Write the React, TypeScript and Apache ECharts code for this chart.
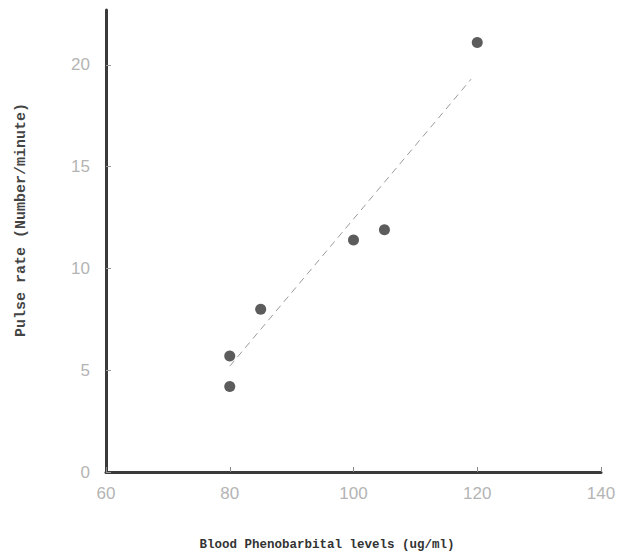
import React, { useEffect, useRef } from "react";
import * as echarts from "echarts";

const pointX = [80, 80, 85, 100, 105, 120];
const pointY = [5.7, 4.2, 8.0, 11.4, 11.9, 21.1];
const fitX = [80, 119];
const fitY = [5.2, 19.3];
const xTicks = [60, 80, 100, 120, 140];
const yTicks = [0, 5, 10, 15, 20];
const xTitle = "Blood Phenobarbital levels (ug/ml)";
const yTitle = "Pulse rate (Number/minute)";

export default function App() {
  const ref = useRef<HTMLDivElement>(null);
  useEffect(() => {
    if (!ref.current) return;
    const chart = echarts.init(ref.current, undefined, { renderer: "svg" });
    const labelStyle = {
      color: "#b4b4b4",
      fontFamily: "Liberation Sans",
      fontSize: 17,
    };
    chart.setOption({
      animation: false,
      backgroundColor: "#ffffff",
      grid: { left: 106, right: 41, top: 10, bottom: 84 },
      xAxis: {
        type: "value",
        min: 60,
        max: 140,
        interval: 20,
        axisLine: { show: true, lineStyle: { color: "#3a3a3a", width: 3 } },
        axisTick: { show: true, inside: true, length: 5, lineStyle: { color: "#888", width: 1 }, customValues: xTicks },
        axisLabel: { ...labelStyle, margin: 13, customValues: xTicks },
        splitLine: { show: false },
      },
      yAxis: {
        type: "value",
        min: 0,
        max: 22.7,
        interval: 5,
        axisLine: { show: true, lineStyle: { color: "#3a3a3a", width: 3 } },
        axisTick: { show: true, inside: true, length: 5, lineStyle: { color: "#999", width: 1 }, customValues: yTicks },
        axisLabel: { ...labelStyle, margin: 16, customValues: yTicks },
        splitLine: { show: false },
      },
      graphic: [
        {
          type: "text",
          x: 327,
          y: 545,
          style: {
            text: xTitle,
            fill: "#333",
            font: "bold 12.5px 'Liberation Mono'",
            textAlign: "center",
            textVerticalAlign: "middle",
          },
        },
        {
          type: "text",
          x: 21,
          y: 220,
          rotation: Math.PI / 2,
          style: {
            text: yTitle,
            fill: "#444",
            font: "bold 15px 'Liberation Mono'",
            textAlign: "center",
            textVerticalAlign: "middle",
          },
        },
      ],
      series: [
        {
          type: "line",
          data: fitX.map((x, i) => [x, fitY[i]]),
          symbol: "none",
          lineStyle: { color: "#9a9a9a", width: 1, type: [7, 5] },
          z: 1,
        },
        {
          type: "scatter",
          data: pointX.map((x, i) => [x, pointY[i]]),
          symbol: "circle",
          symbolSize: 11,
          itemStyle: { color: "#333333" },
          z: 2,
        },
      ],
    });
    return () => chart.dispose();
  }, []);
  return (
    <div
      ref={ref}
      style={{ position: "fixed", left: 0, top: 0, width: 642, height: 556 }}
    />
  );
}
